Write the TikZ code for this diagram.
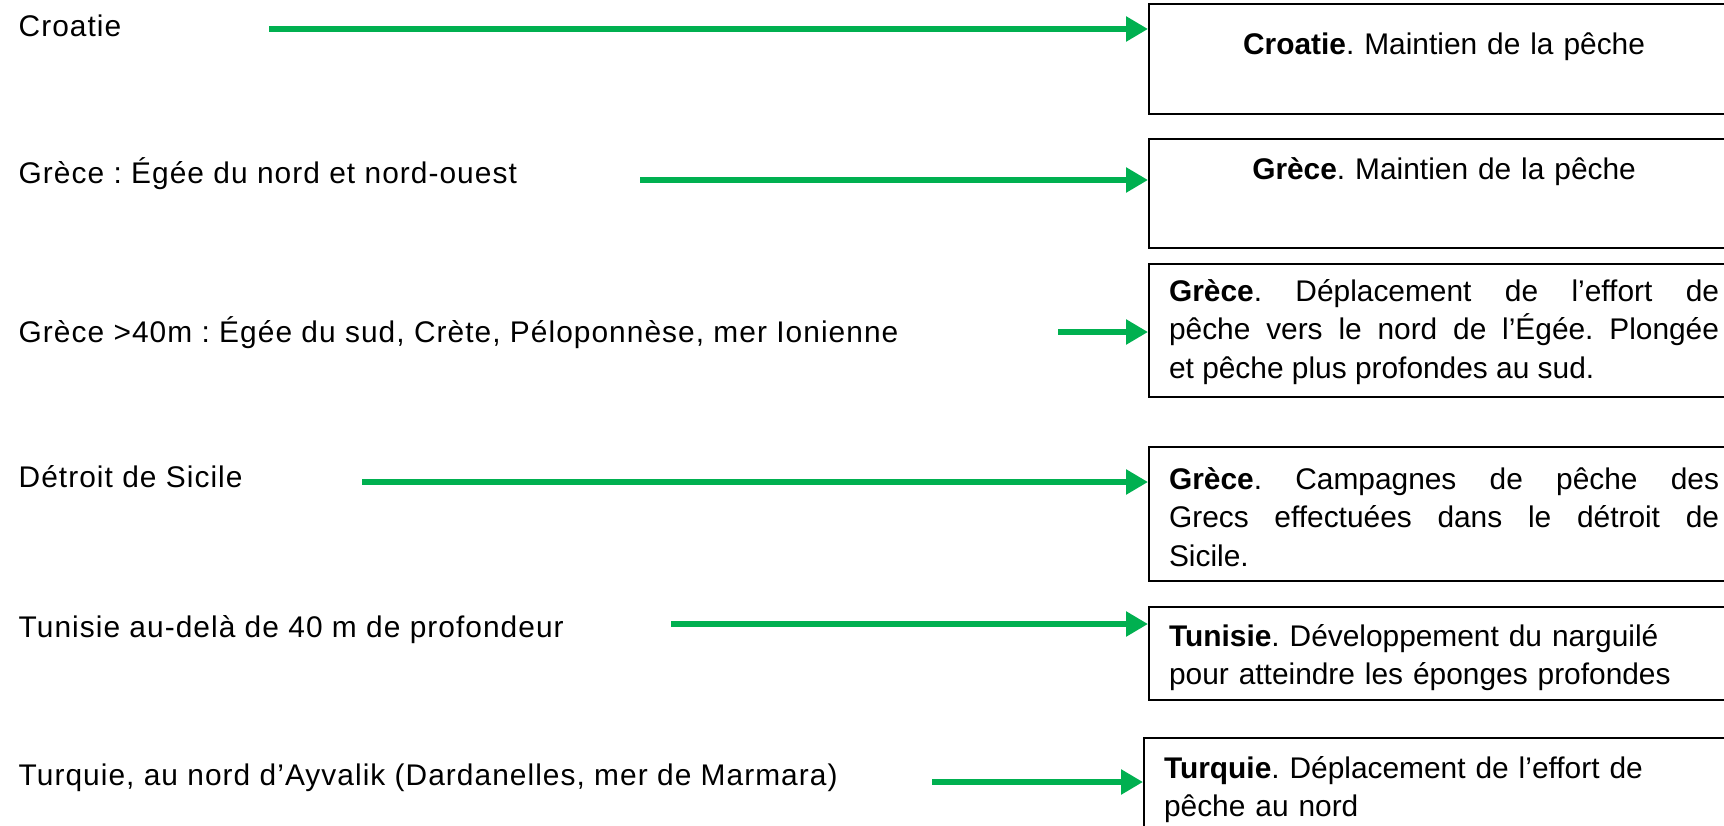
\documentclass[tikz,border=0pt]{standalone}
\usepackage{fontspec}
\setmainfont{Liberation Sans}
\newfontfamily\regionfont[LetterSpace=3.5]{Liberation Sans}
\usetikzlibrary{arrows.meta, positioning, calc}
\definecolor{arrowgreen}{RGB}{0, 176, 80}
\frenchspacing

\begin{document}
\begin{tikzpicture}[
  font=\fontsize{8.5pt}{11pt}\selectfont,
  region/.style={anchor=base west, inner sep=0pt, font=\fontsize{8.5pt}{11pt}\regionfont},
  box/.style={draw, line width=0.6pt, anchor=north west, text width=5.5cm, inner xsep=0.2cm, inner ysep=0pt},
  arr/.style={-{Triangle[length=0.22cm, width=0.24cm]}, line width=0.06cm, arrowgreen}
]
  \useasboundingbox (0,0) rectangle (17.24,-8.26);
  \clip (0,0) rectangle (17.24,-8.26);

  % Regions (left column)
  \node[region] (r1) at (0.18,-0.37) {Croatie};
  \node[region] (r2) at (0.18,-1.84) {Grèce : Égée du nord et nord-ouest};
  \node[region] (r3) at (0.18,-3.42) {Grèce >40m : Égée du sud, Crète, Péloponnèse, mer Ionienne};
  \node[region] (r4) at (0.18,-4.87) {Détroit de Sicile};
  \node[region] (r5) at (0.18,-6.37) {Tunisie au-delà de 40 m de profondeur};
  \node[region] (r6) at (0.18,-7.85) {Turquie, au nord d’Ayvalik (Dardanelles, mer de Marmara)};

  % Outcomes (right column)
  \node[box, align=center, text height=0.50cm, text depth=0.60cm] (cro) at (11.48,-0.03)
    {\textbf{Croatie}. Maintien de la pêche};
  \node[box, align=center, text height=0.40cm, text depth=0.69cm] (gre) at (11.48,-1.38)
    {\textbf{Grèce}. Maintien de la pêche};
  \node[box, align=justify, text height=0.37cm, text depth=0.96cm] (gresud) at (11.48,-2.63)
    {\textbf{Grèce}. Déplacement de l’effort de\linebreak pêche vers le nord de l’Égée. Plongée\linebreak et pêche plus profondes au sud.};
  \node[box, align=justify, text height=0.42cm, text depth=0.92cm] (sic) at (11.48,-4.46)
    {\textbf{Grèce}. Campagnes de pêche des\linebreak Grecs effectuées dans le détroit de\linebreak Sicile.};
  \node[box, align=left, text height=0.39cm, text depth=0.54cm] (tun) at (11.48,-6.06)
    {\textbf{Tunisie}. Développement du narguilé\\pour atteindre les éponges profondes};
  \node[box, align=left, text height=0.40cm, text depth=0.90cm] (tur) at (11.43,-7.37)
    {\textbf{Turquie}. Déplacement de l’effort de\\pêche au nord};

  % Arrow starts
  \coordinate (a1) at (2.69,-0.29);
  \coordinate (a2) at (6.40,-1.80);
  \coordinate (a3) at (10.58,-3.32);
  \coordinate (a4) at (3.62,-4.82);
  \coordinate (a5) at (6.71,-6.24);
  \coordinate (a6) at (9.32,-7.82);

  \draw[arr] (a1) -- (a1 -| cro.west);
  \draw[arr] (a2) -- (a2 -| gre.west);
  \draw[arr] (a3) -- (a3 -| gresud.west);
  \draw[arr] (a4) -- (a4 -| sic.west);
  \draw[arr] (a5) -- (a5 -| tun.west);
  \draw[arr] (a6) -- (a6 -| tur.west);
\end{tikzpicture}
\end{document}
